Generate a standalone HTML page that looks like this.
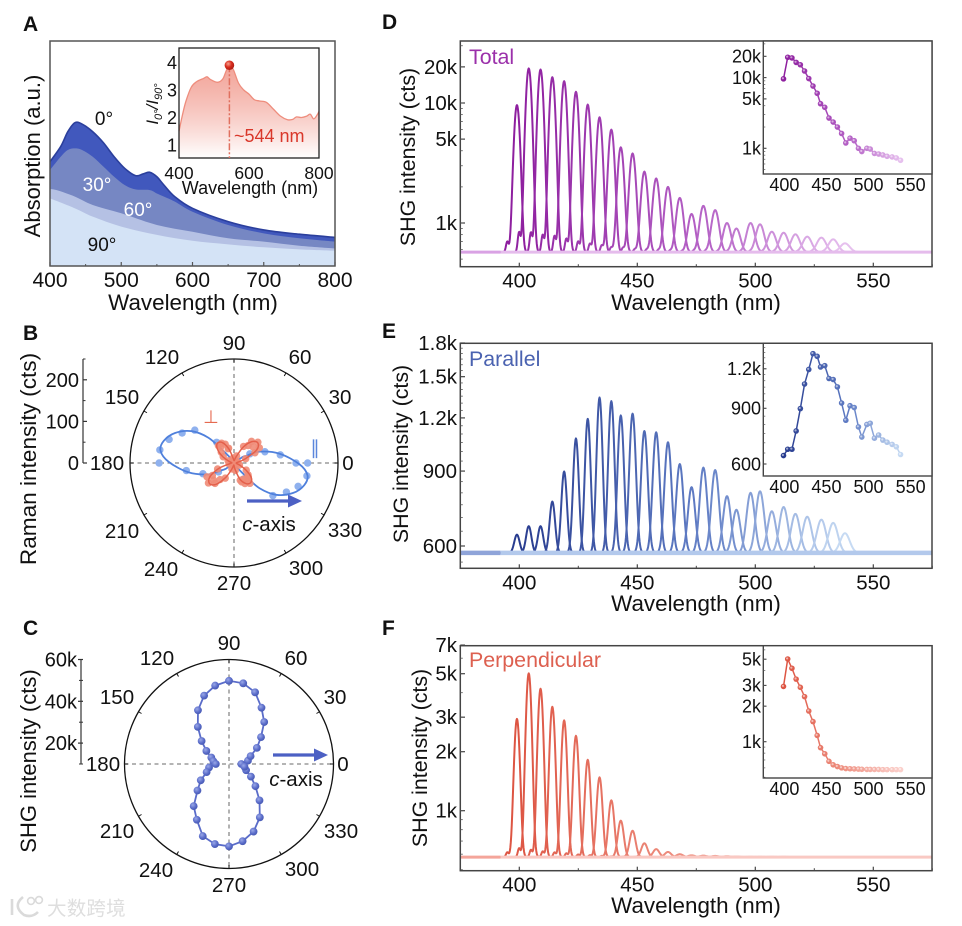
<!DOCTYPE html>
<html lang="en">
<head>
<meta charset="utf-8">
<title>Polarized absorption, Raman and SHG spectra</title>
<style>
html,body{margin:0;padding:0;background:#fff;}
svg{display:block;font-family:"Liberation Sans","Noto Sans CJK SC",sans-serif;}
</style>
</head>
<body>
<svg id="fig" xmlns="http://www.w3.org/2000/svg" width="962" height="926" viewBox="0 0 962 926">
  <defs>
    <linearGradient id="ratioFill" gradientUnits="userSpaceOnUse" x1="0" y1="62" x2="0" y2="158">
      <stop offset="0" stop-color="#ea6a58" stop-opacity="0.62"/>
      <stop offset="1" stop-color="#ffffff" stop-opacity="0.9"/>
    </linearGradient>
    <radialGradient id="redBall" cx="0.38" cy="0.35" r="0.7">
      <stop offset="0" stop-color="#f7a08e"/>
      <stop offset="0.5" stop-color="#d92d1e"/>
      <stop offset="1" stop-color="#a81c12"/>
    </radialGradient>
    <radialGradient id="blueBall" cx="0.38" cy="0.35" r="0.7">
      <stop offset="0" stop-color="#9aa8e8"/>
      <stop offset="0.6" stop-color="#5a6cc9"/>
      <stop offset="1" stop-color="#4557b0"/>
    </radialGradient>
  </defs>

  <g font-weight="700" font-size="21" fill="#111">
    <text x="23" y="31">A</text>
    <text x="23" y="340">B</text>
    <text x="23" y="635">C</text>
    <text x="382" y="29">D</text>
    <text x="382" y="338">E</text>
    <text x="382" y="635">F</text>
  </g>

  <g id="panelA"></g>
  <g id="panelB"></g>
  <g id="panelC"></g>
  <g id="panelD"></g>
  <g id="panelE"></g>
  <g id="panelF"></g>

  <g fill="#111" font-size="21.4" text-anchor="middle">
    <text transform="translate(40,156) rotate(-90)" font-size="22">Absorption (a.u.)</text>
    <text x="193" y="310" font-size="22.4">Wavelength (nm)</text>
    <text transform="translate(36,459) rotate(-90)" font-size="22.6">Raman intensity (cts)</text>
    <text transform="translate(36,761) rotate(-90)" font-size="22">SHG intensity (cts)</text>
    <text transform="translate(415,157) rotate(-90)">SHG intensity (cts)</text>
    <text x="696" y="310" font-size="22.4">Wavelength (nm)</text>
    <text transform="translate(408,454) rotate(-90)">SHG intensity (cts)</text>
    <text x="696" y="611" font-size="22.4">Wavelength (nm)</text>
    <text transform="translate(427,758) rotate(-90)">SHG intensity (cts)</text>
    <text x="696" y="913" font-size="22.4">Wavelength (nm)</text>
  </g>

  <g>
    <path d="M12 899 V915 M23 897 Q12 906 24 915 Q32 918 38 912" fill="none" stroke="#dadada" stroke-width="2.6"/>
    <circle cx="31" cy="901" r="3.4" fill="none" stroke="#dadada" stroke-width="1.6"/>
    <circle cx="39" cy="900" r="3.4" fill="none" stroke="#dadada" stroke-width="1.6"/>
    <text x="47" y="915" font-size="19.5" letter-spacing="0.2" fill="#dedede" font-family="'Liberation Sans','Noto Sans CJK SC',sans-serif">大数跨境</text>
  </g>
</svg>

<script>
/* ---------- Panel A data ---------- */
const absNm0 = [400,415,425,435,445,460,475,490,505,520,530,540,550,560,575,600,650,700,750,800];
const abs0 = [.463,.530,.596,.636,.630,.596,.547,.485,.433,.401,.408,.416,.396,.359,.308,.256,.197,.160,.141,.127];
const absNm30 = [400,415,425,435,445,460,475,490,505,520,540,550,560,575,600,650,700,750,800];
const abs30 = [.426,.485,.515,.522,.515,.485,.441,.396,.359,.340,.337,.322,.308,.286,.241,.182,.145,.123,.108];
const absNm60 = [400,410,435,460,500,550,600,650,700,750,800];
const abs60 = [.342,.336,.308,.271,.234,.182,.152,.123,.108,.090,.078];
const absNm90 = [400,435,460,500,550,600,650,700,750,800];
const abs90 = [.300,.256,.219,.175,.138,.112,.096,.083,.074,.068];
const absTicksMajor = [400,500,600,700,800];
const absTicksMinor = [450,550,650,750];
const ratioNm = [400,410,420,435,450,470,480,490,510,525,535,544,555,570,585,600,615,630,650,670,690,710,725,735,750,765,775,785,795,800];
const ratioVals = [1.5,2.1,2.6,3.1,3.3,3.42,3.48,3.38,3.28,3.4,3.7,3.9,3.75,3.25,3.0,2.85,2.65,2.6,2.55,2.3,2.05,1.92,1.93,2.02,2.0,2.05,2.12,1.95,2.1,2.22];
const ratioXTicks = [400,600,800];
const ratioYTicks = [1,2,3,4];

/* ---------- Panel B data ---------- */
const ramanParAngles = [0,0,10,20,30,350,340,331,320,180,170,160,150,140,130,189,199,210,300];
const ramanParVals = [177,149,113,79,44,178,164,144,122,180,181,166,144,123,65,116,79,43,45];
const ramanParFitAngles = [60,35,30,24,11.5,-1,-9.4,-17.5,-27,-37,-44.6,-48,-55,240,215,210,204,191.5,179,170.6,162.5,153,143,135.4,132,125];
const ramanParFitVals = [3,25,35,67,112,157,179,177,159,127,87,45,15,3,25,35,67,112,157,179,177,159,127,87,45,15];
const ramanPerpAngles = [0,10,20,26,31,40,41,51,51,60,70,80,90,100,110,112,115,122,130,132,140,150,160,170,180,190,200,207,210,218,220,227,230,240,250,260,270,280,290,292,298,300,308,310,316,320,330,340,350];
const ramanPerpVals = [7,9,30,56,71,60,76,67,54,46,18,9,7,12,38,37,50,56,50,56,40,30,15,7,7,12,42,73,60,78,64,67,52,42,15,7,7,18,44,49,56,45,62,50,48,44,34,14,7];
const ramanPerpFitAngles = [0,10,20,30,40,50,60,70,80,90,100,110,120,130,140,150,160,170,180,190,200,210,220,230,240,250,260,270,280,290,300,310,320,330,340,350];
const ramanPerpFitVals = [6,8,28,63,75,67,44,17,8,6,11,36,57,62,52,32,14,6,6,11,40,67,77,67,40,16,6,6,16,41,57,62,54,32,14,6];
const ramanRTicks = [0,100,200];
const ramanRMinor = [50,150,250];

/* ---------- Panel C data ---------- */
const shgAngles = [0,10,20,30,40,50,60,70,80,90,100,110,120,130,140,150,160,170,180,190,200,210,220,230,240,250,260,270,280,290,300,310,320,330,340,350];
const shgVals = [15.9,19.2,21,25.4,30,36.2,41.1,46.5,49.2,49.8,48.1,44.8,39.7,33.2,27.1,22.5,19,17.6,16.3,19.7,21.4,25.6,29.7,36.3,40.8,46.7,48.9,49.4,47.5,44.4,39.5,32.7,26.5,22.1,18.7,17.5];
const shgRTicks = [20,40,60];
const shgRLabels = ['20k','40k','60k'];
const shgRMinor = [10,30,50];

/* ---------- Panels D, E, F data ---------- */
const peakNm = [399,404,409,414,419,424,429,434,439,443,448,453,458,463,468,473,478,483,488,492,498,502,507,512,517,522,528,533,538];
const totalPeaks = [9600,19400,19000,16400,15200,12400,9700,7600,6000,4270,3800,2680,2350,2000,1620,1190,1390,1280,1000,900,1000,975,846,830,805,770,755,731,677];
const parallelPeaks = [638,668,668,763,898,1074,1194,1340,1314,1216,1228,1118,1110,1052,935,825,917,905,786,730,800,807,724,741,714,703,692,680,643];
const perpPeaks = [2940,5020,4190,3390,2890,2410,1820,1480,1130,890,790,682,637,616,600,592,590,588,586,584,582,582,582,582,580,580,580,580,580];
const spectraXTicks = [400,450,500,550];
const spectraXMinor = [375,425,475,525,575];
const totalYTicks = [1000,5000,10000,20000];
const totalYLabels = ['1k','5k','10k','20k'];
const parallelYTicks = [600,900,1200,1500,1800];
const parallelYLabels = ['600','900','1.2k','1.5k','1.8k'];
const parallelInsetTicks = [600,900,1200];
const parallelInsetLabels = ['600','900','1.2k'];
const perpYTicks = [1000,2000,3000,5000,7000];
const perpYLabels = ['1k','2k','3k','5k','7k'];
const perpInsetTicks = [1000,2000,3000,5000];
const perpInsetLabels = ['1k','2k','3k','5k'];

/* ---------- helpers ---------- */
const NS = 'http://www.w3.org/2000/svg';
function el(tag, parent, attrs) {
  const n = document.createElementNS(NS, tag);
  for (const k in attrs) n.setAttribute(k, attrs[k]);
  parent.appendChild(n);
  return n;
}
function txt(parent, x, y, str, anchor, size, fill) {
  const n = el('text', parent, {x: x, y: y, 'text-anchor': anchor, 'font-size': size, fill: fill});
  n.textContent = str;
  return n;
}
function smooth(pts, closed) {
  const n = pts.length;
  const at = i => closed ? pts[(i + n) % n] : pts[Math.max(0, Math.min(n - 1, i))];
  let d = 'M' + pts[0][0].toFixed(2) + ' ' + pts[0][1].toFixed(2);
  const last = closed ? n : n - 1;
  for (let i = 0; i < last; i++) {
    const p0 = at(i - 1), p1 = at(i), p2 = at(i + 1), p3 = at(i + 2);
    const c1x = p1[0] + (p2[0] - p0[0]) / 6, c1y = p1[1] + (p2[1] - p0[1]) / 6;
    const c2x = p2[0] - (p3[0] - p1[0]) / 6, c2y = p2[1] - (p3[1] - p1[1]) / 6;
    d += 'C' + c1x.toFixed(2) + ' ' + c1y.toFixed(2) + ' ' + c2x.toFixed(2) + ' ' + c2y.toFixed(2) + ' ' + p2[0].toFixed(2) + ' ' + p2[1].toFixed(2);
  }
  return closed ? d + 'Z' : d;
}
function hex(c) { return [1, 3, 5].map(i => parseInt(c.substr(i, 2), 16)); }
function ramp(stops, t) {
  const a = t < stops[1][0] ? stops[0] : stops[1];
  const b = t < stops[1][0] ? stops[1] : stops[2];
  const f = (t - a[0]) / (b[0] - a[0]);
  const ca = hex(a[1]), cb = hex(b[1]);
  return 'rgb(' + ca.map((v, i) => Math.round(v + (cb[i] - v) * f)).join(',') + ')';
}
function minorLog(lo, hi) {
  const out = [];
  for (let dec = 100; dec <= 100000; dec *= 10) {
    for (let m = 1; m < 10; m++) {
      const v = m * dec;
      if (v > lo && v < hi) out.push(v);
    }
  }
  return out;
}

/* ---------- Panel A ---------- */
const gA = document.getElementById('panelA');
const xA = nm => 50 + (nm - 400) / 400 * 285;
const yA = v => 266 - v * 225.3;
function absArea(nms, vals, fill, name, stroke) {
  const pts = nms.map((n, i) => [xA(n), yA(vals[i])]);
  const d = smooth(pts, false);
  const a = el('path', gA, {d: d + 'L335 266L50 266Z', fill: fill});
  
  
  if (stroke) {
    const l = el('path', gA, {d: d, fill: 'none', stroke: stroke, 'stroke-width': 1.6});
    
    
  }
}
absArea(absNm0, abs0, '#4158bd', 'absorption-0deg', '#2b3f9c');
absArea(absNm30, abs30, '#7687c3', 'absorption-30deg');
absArea(absNm60, abs60, '#b5c1e4', 'absorption-60deg');
absArea(absNm90, abs90, '#d4e3f6', 'absorption-90deg');
const frameA = el('rect', gA, {x: 50, y: 41, width: 285, height: 225, fill: 'none', stroke: '#555', 'stroke-width': 1.5});


absTicksMajor.forEach(v => {
  const t = el('line', gA, {x1: xA(v), x2: xA(v), y1: 266, y2: 262, stroke: '#555', 'stroke-width': 1.2});
  
  
  const l = txt(gA, xA(v), 287, String(v), 'middle', 21, '#111');
  
  
});
absTicksMinor.forEach(v => {
  const t = el('line', gA, {x1: xA(v), x2: xA(v), y1: 266, y2: 264, stroke: '#555', 'stroke-width': 1});
  
  
});
const bandLabels = [['0°', 104, 125, '#111'], ['30°', 97, 191, '#fff'], ['60°', 138, 216, '#fff'], ['90°', 102, 251, '#111']];
bandLabels.forEach(b => {
  const l = txt(gA, b[1], b[2], b[0], 'middle', 19, b[3]);
  
  
});

/* Panel A inset */
const xI = nm => 179 + (nm - 400) / 400 * 140;
const yI = v => 62.5 + (4 - v) * 27.5;
const ratioPts = ratioNm.map((n, i) => [xI(n), yI(ratioVals[i])]);
const ratioLine = smooth(ratioPts, false);
const ratioBg = el('rect', gA, {x: 179, y: 48, width: 140, height: 110, fill: '#fff'});


const ratioArea = el('path', gA, {d: ratioLine + 'L319 158L179 158Z', fill: 'url(#ratioFill)'});


const ratioCurve = el('path', gA, {d: ratioLine, fill: 'none', stroke: '#ee8d7d', 'stroke-width': 1.3});


const ratioFrame = el('rect', gA, {x: 179, y: 48, width: 140, height: 110, fill: 'none', stroke: '#222', 'stroke-width': 1.3});


const peakLine = el('line', gA, {x1: xI(544), x2: xI(544), y1: yI(3.9), y2: 158, stroke: '#e0705f', 'stroke-width': 1.5, 'stroke-dasharray': '7 2 2 2'});


const peakDot = el('circle', gA, {cx: xI(544), cy: yI(3.9), r: 4.8, fill: 'url(#redBall)'});


ratioXTicks.forEach(v => {
  const l = txt(gA, xI(v), 179, String(v), 'middle', 17.5, '#111');
  
  
});
ratioYTicks.forEach(v => {
  const l = txt(gA, 177, yI(v) + 6.5, String(v), 'end', 18, '#111');
  
  
});
const ratioAnn = txt(gA, 234, 142, '~544 nm', 'start', 18, '#d9372a');


const ratioX = txt(gA, 250, 194, 'Wavelength (nm)', 'middle', 18, '#111');


const ratioY = el('text', gA, {transform: 'translate(158,104) rotate(-90)', 'text-anchor': 'middle', 'font-size': 17, fill: '#111', 'font-style': 'italic'});


const ratioYParts = [['I', 17, 0], ['0°', 11, 4], ['/I', 17, -4], ['90°', 11, 4]];
ratioYParts.forEach(part => {
  const s = el('tspan', ratioY, {'font-size': part[1], dy: part[2]});
  s.textContent = part[0];
});

/* ---------- Polar helpers ---------- */
function polarXY(cx, cy, r, deg) {
  const a = deg * Math.PI / 180;
  return [cx + r * Math.cos(a), cy - r * Math.sin(a)];
}
function polarFrame(g, cx, cy, r, labels, prefix) {
  const c = el('circle', g, {cx: cx, cy: cy, r: r, fill: 'none', stroke: '#111', 'stroke-width': 1.3});
  
  
  const h = el('line', g, {x1: cx - r, x2: cx + r, y1: cy, y2: cy, stroke: '#888', 'stroke-width': 1.3, 'stroke-dasharray': '4 3.5'});
  
  
  const v = el('line', g, {x1: cx, x2: cx, y1: cy - r, y2: cy + r, stroke: '#888', 'stroke-width': 1.3, 'stroke-dasharray': '4 3.5'});
  
  
  labels.forEach(lab => {
    const a = polarXY(cx, cy, r, lab[0]), b = polarXY(cx, cy, r - 3.5, lab[0]);
    const t = el('line', g, {x1: a[0], y1: a[1], x2: b[0], y2: b[1], stroke: '#111', 'stroke-width': 1});
    
    
    const l = txt(g, lab[1], lab[2] + 7, String(lab[0]), 'middle', 20.5, '#111');
    
    
  });
}
function arrow(g, x1, x2, y, name) {
  const s = el('line', g, {x1: x1, x2: x2 - 12, y1: y, y2: y, stroke: '#4c60c4', 'stroke-width': 3.2});
  
  
  const p = el('path', g, {d: 'M' + (x2 - 14) + ' ' + (y - 6.5) + 'L' + x2 + ' ' + y + 'L' + (x2 - 14) + ' ' + (y + 6.5) + 'Z', fill: '#4c60c4'});
  
  
}
function caxisLabel(g, cx, y) {
  const t = el('text', g, {x: cx, y: y, 'text-anchor': 'middle', 'font-size': 20.5, fill: '#111'});
  
  
  const c = el('tspan', t, {'font-style': 'italic'});
  c.textContent = 'c';
  const rest = el('tspan', t, {});
  rest.textContent = '-axis';
}

/* ---------- Panel B ---------- */
const gB = document.getElementById('panelB');
const cxB = 234, cyB = 463, rBmax = 104;
const rB = cts => cts * rBmax / 250;
polarFrame(gB, cxB, cyB, rBmax, [[0,348,463],[30,340,397],[60,300,357],[90,234,343],[120,162,357],[150,122,397],[180,107,463],[210,122,531],[240,161,569],[270,234,583],[300,306,568],[330,345,530]], 'raman');
const axB = el('line', gB, {x1: 83, x2: 83, y1: cyB - rB(250), y2: cyB, stroke: '#333', 'stroke-width': 1.2});


ramanRTicks.forEach(v => {
  const t = el('line', gB, {x1: 83, x2: 87, y1: cyB - rB(v), y2: cyB - rB(v), stroke: '#333', 'stroke-width': 1.2});
  
  
  const l = txt(gB, 79, cyB - rB(v) + 7, String(v), 'end', 20, '#111');
  
  
});
ramanRMinor.forEach(v => {
  const t = el('line', gB, {x1: 83, x2: 85.5, y1: cyB - rB(v), y2: cyB - rB(v), stroke: '#333', 'stroke-width': 1});
  
  
});
ramanParAngles.forEach((a, i) => {
  const p = polarXY(cxB, cyB, rB(ramanParVals[i]), a);
  const d = el('circle', gB, {cx: p[0], cy: p[1], r: 3.7, fill: '#8fb1ee'});
  
  
});
const parFit = el('path', gB, {d: smooth(ramanParFitAngles.map((a, i) => polarXY(cxB, cyB, rB(ramanParFitVals[i]), a)), true), fill: 'none', stroke: '#4f80dc', 'stroke-width': 1.8});


ramanPerpAngles.forEach((a, i) => {
  const p = polarXY(cxB, cyB, rB(ramanPerpVals[i]), a);
  const d = el('circle', gB, {cx: p[0], cy: p[1], r: 3.7, fill: '#ef8b77', opacity: 0.9});
  
  
});
const perpFit = el('path', gB, {d: smooth(ramanPerpFitAngles.map((a, i) => polarXY(cxB, cyB, rB(ramanPerpFitVals[i]), a)), true), fill: 'none', stroke: '#e4604b', 'stroke-width': 1.5});


const perpSym = txt(gB, 211, 423, '⊥', 'middle', 18, '#e56a50');
perpSym.setAttribute('font-family', '"DejaVu Sans",sans-serif');


const parSym = txt(gB, 315, 454, '∥', 'middle', 19, '#5b86dc');
parSym.setAttribute('font-family', '"DejaVu Sans",sans-serif');


arrow(gB, 247, 302, 501, 'raman-c-axis-arrow');
caxisLabel(gB, 269, 531);

/* ---------- Panel C ---------- */
const gC = document.getElementById('panelC');
const cxC = 229, cyC = 764, rCmax = 104.5;
const rC = k => (k - 10) * 2.09;
polarFrame(gC, cxC, cyC, rCmax, [[0,343,764],[30,335,697],[60,296,658],[90,229,643],[120,157,658],[150,117,697],[180,103,764],[210,117,831],[240,156,870],[270,229,885],[300,302,869],[330,341,831]], 'shg');
const axC = el('line', gC, {x1: 81, x2: 81, y1: cyC - rC(60), y2: cyC, stroke: '#333', 'stroke-width': 1.2});


shgRTicks.forEach((v, i) => {
  const t = el('line', gC, {x1: 78, x2: 83, y1: cyC - rC(v), y2: cyC - rC(v), stroke: '#333', 'stroke-width': 1.2});
  
  
  const l = txt(gC, 77, cyC - rC(v) + 7, shgRLabels[i], 'end', 20, '#111');
  
  
});
shgRMinor.forEach(v => {
  const t = el('line', gC, {x1: 79, x2: 83, y1: cyC - rC(v), y2: cyC - rC(v), stroke: '#333', 'stroke-width': 1});
  
  
});
const shgPts = shgAngles.map((a, i) => polarXY(cxC, cyC, rC(shgVals[i]), a));
const shgPoly = el('polygon', gC, {points: shgPts.map(p => p[0].toFixed(1) + ',' + p[1].toFixed(1)).join(' '), fill: 'none', stroke: '#5a6cc9', 'stroke-width': 1.8});


shgPts.forEach(p => {
  const d = el('circle', gC, {cx: p[0], cy: p[1], r: 3.9, fill: 'url(#blueBall)'});
  
  
});
arrow(gC, 273, 328, 755, 'shg-c-axis-arrow');
caxisLabel(gC, 296, 786);

/* ---------- Spectra panels ---------- */
const xMain = nm => 460.3 + (nm - 375) * 2.36;
const xInset = nm => 763.3 + (nm - 375) * 0.842;
function logAxis(y0, ref, perDecade) { return v => y0 - perDecade * Math.log10(v / ref); }

function spectraPanel(cfg) {
  const g = document.getElementById(cfg.id);
  const stops = cfg.stops;
  const n = peakNm.length;
  const y = cfg.y;
  peakNm.forEach((c, i) => {
    const A = cfg.peaks[i] - cfg.base;
    const sigma = cfg.sigma + Math.max(0, c - 430) * 0.008;
    let d = '';
    for (let nm = c - 10; nm <= c + 10.001; nm += 0.2) {
      const dx = nm - c;
      const sh = nm - (c - 4.1);
      const v = cfg.base + A * Math.exp(-dx * dx / (2 * sigma * sigma)) + A * cfg.shoulder * Math.exp(-sh * sh / 0.55);
      d += (d ? 'L' : 'M') + xMain(nm).toFixed(2) + ' ' + y(v).toFixed(2);
    }
    const p = el('path', g, {d: d, fill: 'none', stroke: ramp(stops, i / (n - 1)), 'stroke-width': cfg.lw, 'stroke-linejoin': 'round'});
    
    
  });
  const bl = el('line', g, {x1: xMain(375), x2: xMain(392), y1: y(cfg.base), y2: y(cfg.base), stroke: cfg.baseLeft, 'stroke-width': cfg.baseW});
  
  
  const br = el('line', g, {x1: xMain(392), x2: xMain(575), y1: y(cfg.base), y2: y(cfg.base), stroke: cfg.baseRight, 'stroke-width': cfg.baseW});
  
  

  const frame = el('rect', g, {x: 460.3, y: cfg.top, width: 471.7, height: cfg.bottom - cfg.top, fill: 'none', stroke: '#444', 'stroke-width': 1.5});
  
  
  spectraXTicks.forEach(v => {
    const t = el('line', g, {x1: xMain(v), x2: xMain(v), y1: cfg.bottom, y2: cfg.bottom - 4, stroke: '#444', 'stroke-width': 1.2});
    
    
    const l = txt(g, xMain(v), cfg.bottom + 21, String(v), 'middle', 20.5, '#111');
    
    
  });
  spectraXMinor.forEach(v => {
    const t = el('line', g, {x1: xMain(v), x2: xMain(v), y1: cfg.bottom, y2: cfg.bottom - 2.5, stroke: '#444', 'stroke-width': 1});
    
    
  });
  cfg.yTicks.forEach((v, i) => {
    const t = el('line', g, {x1: 460.3, x2: 465, y1: y(v), y2: y(v), stroke: '#444', 'stroke-width': 1.2});
    
    
    const l = txt(g, 457, y(v) + 7, cfg.yLabels[i], 'end', 20.5, '#111');
    
    
  });
  cfg.minor.forEach(v => {
    const yy = y(v);
    if (yy > cfg.top && yy < cfg.bottom) {
      const t = el('line', g, {x1: 460.3, x2: 462.8, y1: yy, y2: yy, stroke: '#555', 'stroke-width': 0.8});
      
      
    }
  });
  const title = txt(g, 469, cfg.titleY, cfg.title, 'start', 21.4, cfg.titleColor);
  
  

  /* inset */
  const yi = cfg.insetY;
  const bg = el('rect', g, {x: 763.3, y: cfg.top, width: 168.7, height: cfg.insetBottom - cfg.top, fill: '#fff', stroke: '#444', 'stroke-width': 1.4});
  
  
  spectraXTicks.forEach(v => {
    const l = txt(g, xInset(v), cfg.insetBottom + 17, String(v), 'middle', 18, '#111');
    
    
  });
  cfg.insetTicks.forEach((v, i) => {
    const t = el('line', g, {x1: 763.3, x2: 766.5, y1: yi(v), y2: yi(v), stroke: '#444', 'stroke-width': 1.1});
    
    
    const l = txt(g, 761, yi(v) + 6.3, cfg.insetLabels[i], 'end', 18, '#111');
    
    
  });
  cfg.minor.forEach(v => {
    const yy = yi(v);
    if (yy > cfg.top && yy < cfg.insetBottom) {
      const t = el('line', g, {x1: 763.3, x2: 765.3, y1: yy, y2: yy, stroke: '#555', 'stroke-width': 0.7});
      
      
    }
  });
  for (let i = 0; i < n - 1; i++) {
    const s = el('line', g, {x1: xInset(peakNm[i]), y1: yi(cfg.peaks[i]), x2: xInset(peakNm[i + 1]), y2: yi(cfg.peaks[i + 1]), stroke: ramp(stops, i / (n - 1)), 'stroke-width': 1.5});
    
    
  }
  peakNm.forEach((c, i) => {
    const d = el('circle', g, {cx: xInset(c), cy: yi(cfg.peaks[i]), r: 2.8, fill: ramp(stops, i / (n - 1))});
    
    
    const h = el('circle', g, {cx: xInset(c) - 0.6, cy: yi(cfg.peaks[i]) - 0.6, r: 1.1, fill: '#fff', opacity: 0.55});
    
    
  });
}

spectraPanel({
  id: 'panelD', prefix: 'total', title: 'Total', titleColor: '#9b30aa', titleY: 64,
  top: 41, bottom: 266.7, insetBottom: 174,
  y: logAxis(223, 1000, 120), insetY: logAxis(148.3, 1000, 70.7),
  peaks: totalPeaks, base: 572, sigma: 1.05, shoulder: 0.014, lw: 2, baseW: 3,
  baseLeft: '#d9a2e4', baseRight: '#e5bcec',
  stops: [[0, '#8e1f9f'], [0.6, '#b766c8'], [1, '#e6c0ee']],
  yTicks: totalYTicks, yLabels: totalYLabels, minor: minorLog(400, 33000),
  insetTicks: totalYTicks, insetLabels: totalYLabels
});
spectraPanel({
  id: 'panelE', prefix: 'parallel', title: 'Parallel', titleColor: '#4a62b0', titleY: 366,
  top: 343.3, bottom: 568.3, insetBottom: 476,
  y: logAxis(546, 600, 425.5), insetY: logAxis(464, 600, 316.3),
  peaks: parallelPeaks, base: 578, sigma: 1.1, shoulder: 0, lw: 2, baseW: 4.5,
  baseLeft: '#8fa4d9', baseRight: '#b3c9ec',
  stops: [[0, '#283c8f'], [0.55, '#5f7cc4'], [1, '#c6daf3']],
  yTicks: parallelYTicks, yLabels: parallelYLabels,
  minor: [550, 650, 700, 750, 800, 850, 950, 1000, 1050, 1100, 1150, 1250, 1300, 1350, 1400, 1450, 1550, 1600, 1650, 1700, 1750],
  insetTicks: parallelInsetTicks, insetLabels: parallelInsetLabels
});
spectraPanel({
  id: 'panelF', prefix: 'perpendicular', title: 'Perpendicular', titleColor: '#dd6050', titleY: 667,
  top: 645.7, bottom: 870.7, insetBottom: 778,
  y: logAxis(810.7, 1000, 196), insetY: logAxis(741.7, 1000, 118),
  peaks: perpPeaks, base: 580, sigma: 1.05, shoulder: 0.014, lw: 2, baseW: 3,
  baseLeft: '#f4a59a', baseRight: '#f9c9c3',
  stops: [[0, '#dd5543'], [0.5, '#ee8f80'], [1, '#fbd0cb']],
  yTicks: perpYTicks, yLabels: perpYLabels, minor: minorLog(480, 7100),
  insetTicks: perpInsetTicks, insetLabels: perpInsetLabels
});
</script>
</body>
</html>
